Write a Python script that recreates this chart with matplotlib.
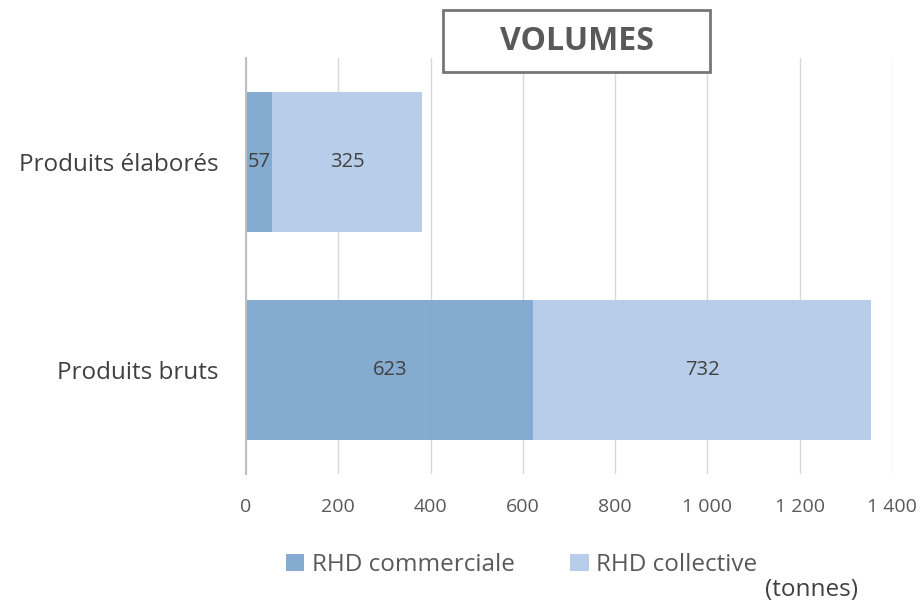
import matplotlib
matplotlib.use("Agg")
import matplotlib.pyplot as plt
from matplotlib.patches import Rectangle

plt.rcParams['font.family'] = ['Open Sans', 'DejaVu Sans']

categories = ["Produits bruts", "Produits élaborés"]
commerciale = [623, 57]
collective = [732, 325]
series_names = ["RHD commerciale", "RHD collective"]
xticks = [0, 200, 400, 600, 800, 1000, 1200, 1400]
xtick_labels = ["0", "200", "400", "600", "800", "1 000", "1 200", "1 400"]

c_dark = "#7fa7cf"
c_light = "#b4cbe8"

fig = plt.figure(figsize=(9.23, 6.05), dpi=100)
ax = fig.add_axes([0.2665, 0.2165, 0.6999, 0.6875])

y = list(range(len(categories)))
ax.barh(y, commerciale, height=0.67, color=c_dark, alpha=0.95, label=series_names[0], zorder=2)
ax.barh(y, collective, left=commerciale, height=0.67, color=c_light, alpha=0.95, label=series_names[1], zorder=2)

for i in y:
    ax.text(commerciale[i] / 2, i, str(commerciale[i]), ha='center', va='center',
            fontsize=14.5, color='#404040', zorder=3)
    ax.text(commerciale[i] + collective[i] / 2, i, str(collective[i]), ha='center', va='center',
            fontsize=14.5, color='#404040', zorder=3)

ax.set_xlim(0, 1400)
ax.set_ylim(-0.5, 1.5)
ax.set_xticks(xticks)
ax.set_xticklabels(xtick_labels, fontsize=14, color='#595959')
ax.set_yticks(y)
ax.set_yticklabels(categories, fontsize=17.5, color='#404040')
ax.tick_params(axis='x', length=0, pad=17)
ax.tick_params(axis='y', length=0, pad=20)
ax.grid(axis='x', color='#d9d9d9', linewidth=1, zorder=0)
ax.set_axisbelow(True)
for s in ['top', 'right', 'bottom']:
    ax.spines[s].set_visible(False)
ax.spines['left'].set_color('#bfbfbf')
ax.spines['left'].set_linewidth(1.5)
ax.spines['left'].set_zorder(4)

leg = fig.legend(loc='center', bbox_to_anchor=(0.565, 0.066), ncol=2, frameon=False,
                 fontsize=17.5, handlelength=0.75, handleheight=0.75, columnspacing=2.3,
                 handletextpad=0.3)
for t in leg.get_texts():
    t.set_color('#595959')

fig.text(858 / 923, 1 - 590 / 605, "(tonnes)", ha='right', va='center', fontsize=17.5, color='#404040')

# title box
box = Rectangle((443 / 923, 1 - 72 / 605), (710 - 443) / 923, (72 - 10) / 605,
                transform=fig.transFigure, facecolor='white', edgecolor='#767676',
                linewidth=2, zorder=5)
fig.add_artist(box)
fig.text((443 + 710) / 2 / 923, 1 - 42 / 605, "VOLUMES", ha='center', va='center',
         fontsize=23, fontweight='bold', color='#595959', zorder=6)

fig.savefig("out.png", dpi=100)
